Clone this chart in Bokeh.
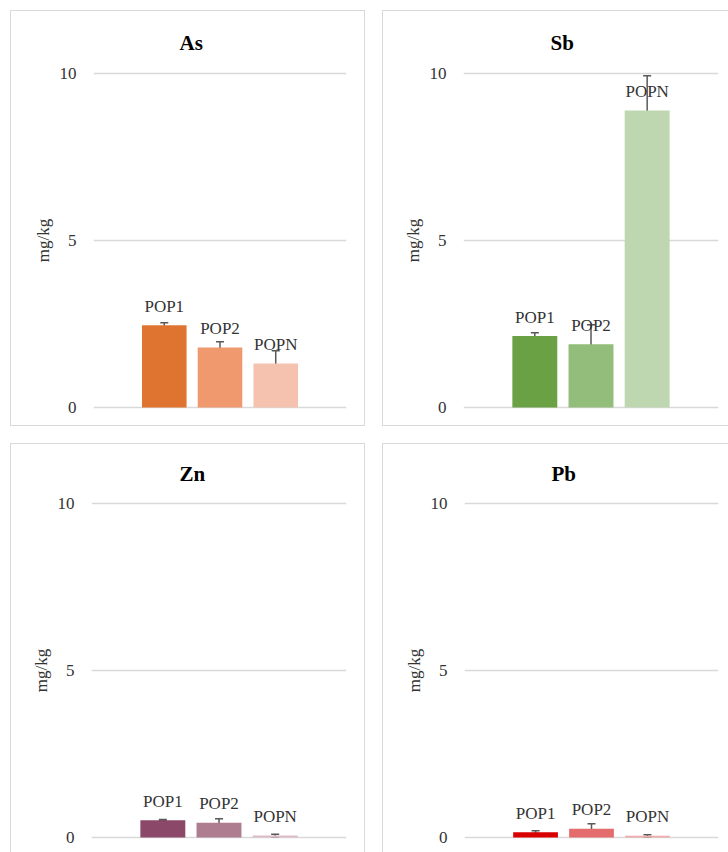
from bokeh.plotting import figure
from bokeh.models import ColumnDataSource, Whisker, TeeHead, Range1d, FixedTicker, Spacer
from bokeh.layouts import column, row
from bokeh.core.properties import value
from bokeh.embed import file_html
from bokeh.resources import INLINE

categories = ["POP1", "POP2", "POPN"]

as_values = [2.46, 1.80, 1.32]
as_err = [0.08, 0.17, 0.38]
as_colors = ["#DE7430", "#F0996F", "#F5C2AF"]

sb_values = [2.14, 1.89, 8.89]
sb_err = [0.10, 0.59, 1.04]
sb_colors = ["#6AA144", "#93BD7A", "#BED7B1"]

zn_values = [0.52, 0.44, 0.06]
zn_err = [0.02, 0.12, 0.04]
zn_colors = ["#8B4869", "#AE7D90", "#DDBCC8"]

pb_values = [0.16, 0.26, 0.05]
pb_err = [0.04, 0.15, 0.03]
pb_colors = ["#D90000", "#E46C6C", "#F2ABAB"]

y_ticks = [0, 5, 10]

FONT = "'Liberation Serif', 'Times New Roman', Times, serif"
TXT = "#333333"
GRID = "#D9D9D9"


def panel(title, values, errs, colors, width, height, bl, br, bt, bb, border_css, title_off, standoff):
    xs = [-1, 0, 1]
    src = ColumnDataSource(dict(
        x=xs, top=values, color=colors, label=categories,
        upper=[v + e for v, e in zip(values, errs)],
        lower=[v - e for v, e in zip(values, errs)],
    ))
    p = figure(width=width, height=height, output_backend="svg", toolbar_location=None,
               x_range=Range1d(-2.27, 2.27), y_range=Range1d(-0.06, 10.06),
               min_border_left=bl, min_border_right=br, min_border_top=bt, min_border_bottom=bb,
               background_fill_color="white", border_fill_color="white")
    p.styles = border_css
    p.outline_line_color = None
    p.title.text = title
    p.title.align = "left"
    p.title.offset = title_off
    p.title.standoff = standoff
    p.title.text_font = FONT
    p.title.text_font_size = "21px"
    p.title.text_font_style = "bold"
    p.title.text_color = "#000000"

    p.vbar(x="x", top="top", width=0.8, bottom=0, fill_color="color", line_color=None, source=src)
    p.text(x="x", y="top", text="label", source=src, text_align="center", text_baseline="middle",
           y_offset=-19, text_font=value(FONT), text_font_size="17px", text_color=TXT)
    head_u = TeeHead(size=8, line_color="#595959", line_width=1.5)
    head_l = TeeHead(size=8, line_color="#595959", line_width=1.5)
    p.add_layout(Whisker(base="x", upper="upper", lower="lower", source=src,
                         line_color="#595959", line_width=1.5,
                         upper_head=head_u, lower_head=head_l))

    p.xaxis.visible = False
    p.xgrid.visible = False
    p.ygrid.grid_line_color = GRID
    p.ygrid.grid_line_width = 1.3
    p.yaxis.ticker = FixedTicker(ticks=y_ticks)
    p.yaxis.axis_line_color = None
    p.yaxis.major_tick_line_color = None
    p.yaxis.minor_tick_line_color = None
    p.yaxis.major_label_standoff = 11
    p.yaxis.major_label_text_font = FONT
    p.yaxis.major_label_text_font_size = "17px"
    p.yaxis.major_label_text_color = TXT
    p.yaxis.axis_label = "mg/kg"
    p.yaxis.axis_label_standoff = 4
    p.yaxis.axis_label_text_font = FONT
    p.yaxis.axis_label_text_font_size = "17px"
    p.yaxis.axis_label_text_font_style = "normal"
    p.yaxis.axis_label_text_color = TXT
    return p


b_full = {"border": "1px solid #D9D9D9", "box-sizing": "border-box"}
b_noright = {"border": "1px solid #D9D9D9", "border-right": "none", "box-sizing": "border-box"}
b_nobottom = {"border": "1px solid #D9D9D9", "border-bottom": "none", "box-sizing": "border-box"}
b_corner = {"border": "1px solid #D9D9D9", "border-right": "none", "border-bottom": "none",
            "box-sizing": "border-box"}

p1 = panel("As", as_values, as_err, as_colors, 355, 416, 82, 20, 60, 18, b_full, 86, 34)
p2 = panel("Sb", sb_values, sb_err, sb_colors, 346, 416, 80, 11, 60, 18, b_noright, 87, 34)
p3 = panel("Zn", zn_values, zn_err, zn_colors, 355, 409, 80, 20, 55, 14, b_nobottom, 88, 31)
p4 = panel("Pb", pb_values, pb_err, pb_colors, 346, 409, 81, 11, 55, 14, b_corner, 87, 31)

layout = column(
    Spacer(height=10),
    row(Spacer(width=10), p1, Spacer(width=17), p2, spacing=0),
    Spacer(height=17),
    row(Spacer(width=10), p3, Spacer(width=17), p4, spacing=0),
    spacing=0,
)

open("out.html", "w").write(file_html(layout, INLINE))
